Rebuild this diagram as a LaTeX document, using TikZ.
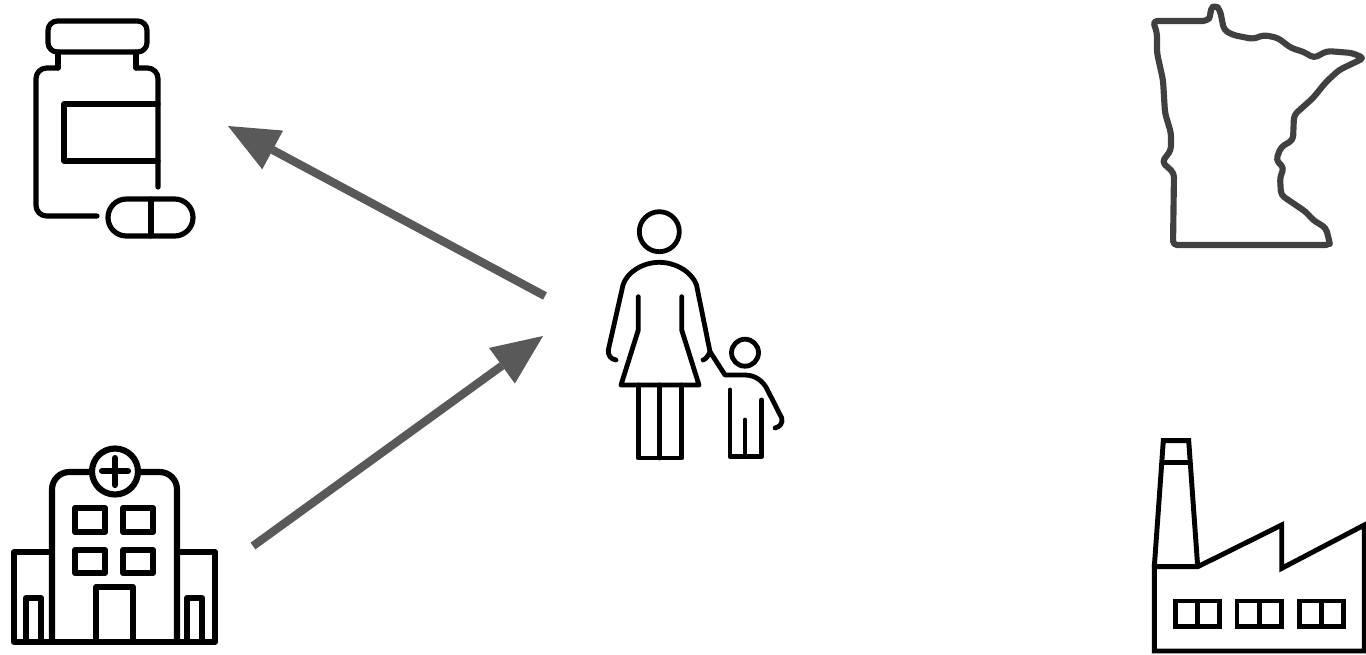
\documentclass[tikz,border=0pt]{standalone}
\usetikzlibrary{arrows.meta}
\definecolor{arrowgrey}{HTML}{595959}
\definecolor{stategrey}{HTML}{404040}
\tikzset{
  icon/.style={draw=black,line width=3.9pt,line join=round,line cap=round},
  thinicon/.style={draw=black,line width=3.7pt,line join=miter,line cap=butt},
  stateline/.style={draw=stategrey,line width=4.6pt,line join=round},
  flow/.style={draw=arrowgrey,line width=6.2pt,-{Triangle[length=38pt,width=33pt,line width=0pt,fill=arrowgrey]}}
}
\begin{document}
\begin{tikzpicture}[x=0.75pt,y=-0.75pt]
\useasboundingbox (0,0) rectangle (1366,654);
% connector ends
\coordinate (personOut) at (545,296);
\coordinate (bottleIn) at (228,126);
\coordinate (hospitalOut) at (253,546);
\coordinate (personIn) at (543,336);
% bottle
\begin{scope}[icon]
\draw[rounded corners=7pt] (48,21) rectangle (147,52);
\draw[rounded corners=8pt] (97,216) -- (36,216) -- (36,68) -- (58,68);
\draw (58,68) -- (58,52);
\draw (136,52) -- (136,68);
\draw[rounded corners=8pt] (136,68) -- (158,68) -- (158,187);
\draw (158,104) -- (64,104) -- (64,161) -- (158,161);
\draw[rounded corners=13.8pt] (151,199) -- (193,199) -- (193,236) -- (108,236) -- (108,199) -- cycle;
\draw (151,199) -- (151,236);
\end{scope}
% hospital
\begin{scope}[icon,line width=4.6pt]
\draw (115,471.5) circle[radius=23];
\draw (102,471) -- (128,471) (115,458) -- (115,485);
\draw[rounded corners=13pt] (52,642) -- (52,472) -- (92,472);
\draw[rounded corners=13pt] (138,472) -- (177,472) -- (177,642);
\draw (75,508) rectangle (105,532);
\draw (123,508) rectangle (153,532);
\draw (75,550) rectangle (105,573);
\draw (123,550) rectangle (153,573);
\draw (96,642) -- (96,587) -- (133,587) -- (133,642);
\draw (52,552) -- (14,552) -- (14,642) -- (215,642) -- (215,552) -- (177,552);
\draw (26,642) -- (26,598) -- (41,598) -- (41,642);
\draw (187,642) -- (187,598) -- (202,598) -- (202,642);
\end{scope}
% woman and child
\begin{scope}[icon,line width=3.6pt]
\draw (659.3,231.7) circle[radius=20];
\draw (745,352.7) circle[radius=13.5];
\draw (616,360) .. controls (610,359) and (608,355) .. (608.3,350) -- (623,285)
  .. controls (627,272) and (643,262.3) .. (659.3,262.3)
  .. controls (675.6,262.3) and (692,272) .. (696.5,285) -- (710,351.7);
\draw (703,360) .. controls (706,359) and (708,356) .. (710,351.7) -- (725,375) -- (745,375)
  .. controls (755,375) and (763,381) .. (767,389) -- (781.7,418)
  .. controls (783,423) and (780,427) .. (775,428);
\draw (730,390) -- (730,456.7) -- (761.7,456.7) -- (761.7,400);
\draw (745,420) -- (745,456.7);
\draw (638.3,296.7) -- (638.3,330) -- (621,385) -- (699,385) -- (681.7,330) -- (681.7,296.7);
\draw (638.3,385) -- (638.3,458) -- (681.7,458) -- (681.7,385);
\draw (659.3,385) -- (659.3,458);
\end{scope}
% state outline
\draw[stateline,rounded corners=3pt] (1153,21) -- (1207,21) -- (1211,16) -- (1210,9) -- (1215.5,5) -- (1220,10) -- (1224,30) -- (1233,35) -- (1253,39) -- (1264,35) -- (1278,38) -- (1291,48) -- (1304,52) -- (1314,58) -- (1327,51) -- (1352,53) -- (1364,58) -- (1339,70) -- (1326,82) -- (1313,98) -- (1294,115) -- (1293,140) -- (1281,147) -- (1276,160) -- (1284,168) -- (1280,177) -- (1281,195) -- (1306,212) -- (1313,220) -- (1326,228) -- (1329,240) -- (1330,245) -- (1173,245) -- (1174,173) -- (1162,162) -- (1171,150) -- (1171,133) -- (1165,113) -- (1163,80) -- (1157,53) -- (1157,33) -- cycle;
% factory
\begin{scope}[thinicon]
\draw (1154.3,566.7) -- (1163.3,440.7) -- (1188.7,440.7) -- (1197.7,566.7);
\draw (1161,462.3) -- (1191,462.3);
\draw (1154.3,566.7) -- (1154.3,651) -- (1364.3,651) -- (1364.3,525) -- (1281.7,568.3) -- (1281.7,525) -- (1197.7,566.7) -- cycle;
\draw (1175.3,601) rectangle (1219.3,626.7);
\draw (1197.7,601) -- (1197.7,626.7);
\draw (1237,601) rectangle (1281.7,626.7);
\draw (1259.3,601) -- (1259.3,626.7);
\draw (1299.3,601) rectangle (1343.7,626.7);
\draw (1321.3,601) -- (1321.3,626.7);
\end{scope}
% connectors
\draw[flow] (personOut) -- (bottleIn);
\draw[flow] (hospitalOut) -- (personIn);
\end{tikzpicture}
\end{document}
